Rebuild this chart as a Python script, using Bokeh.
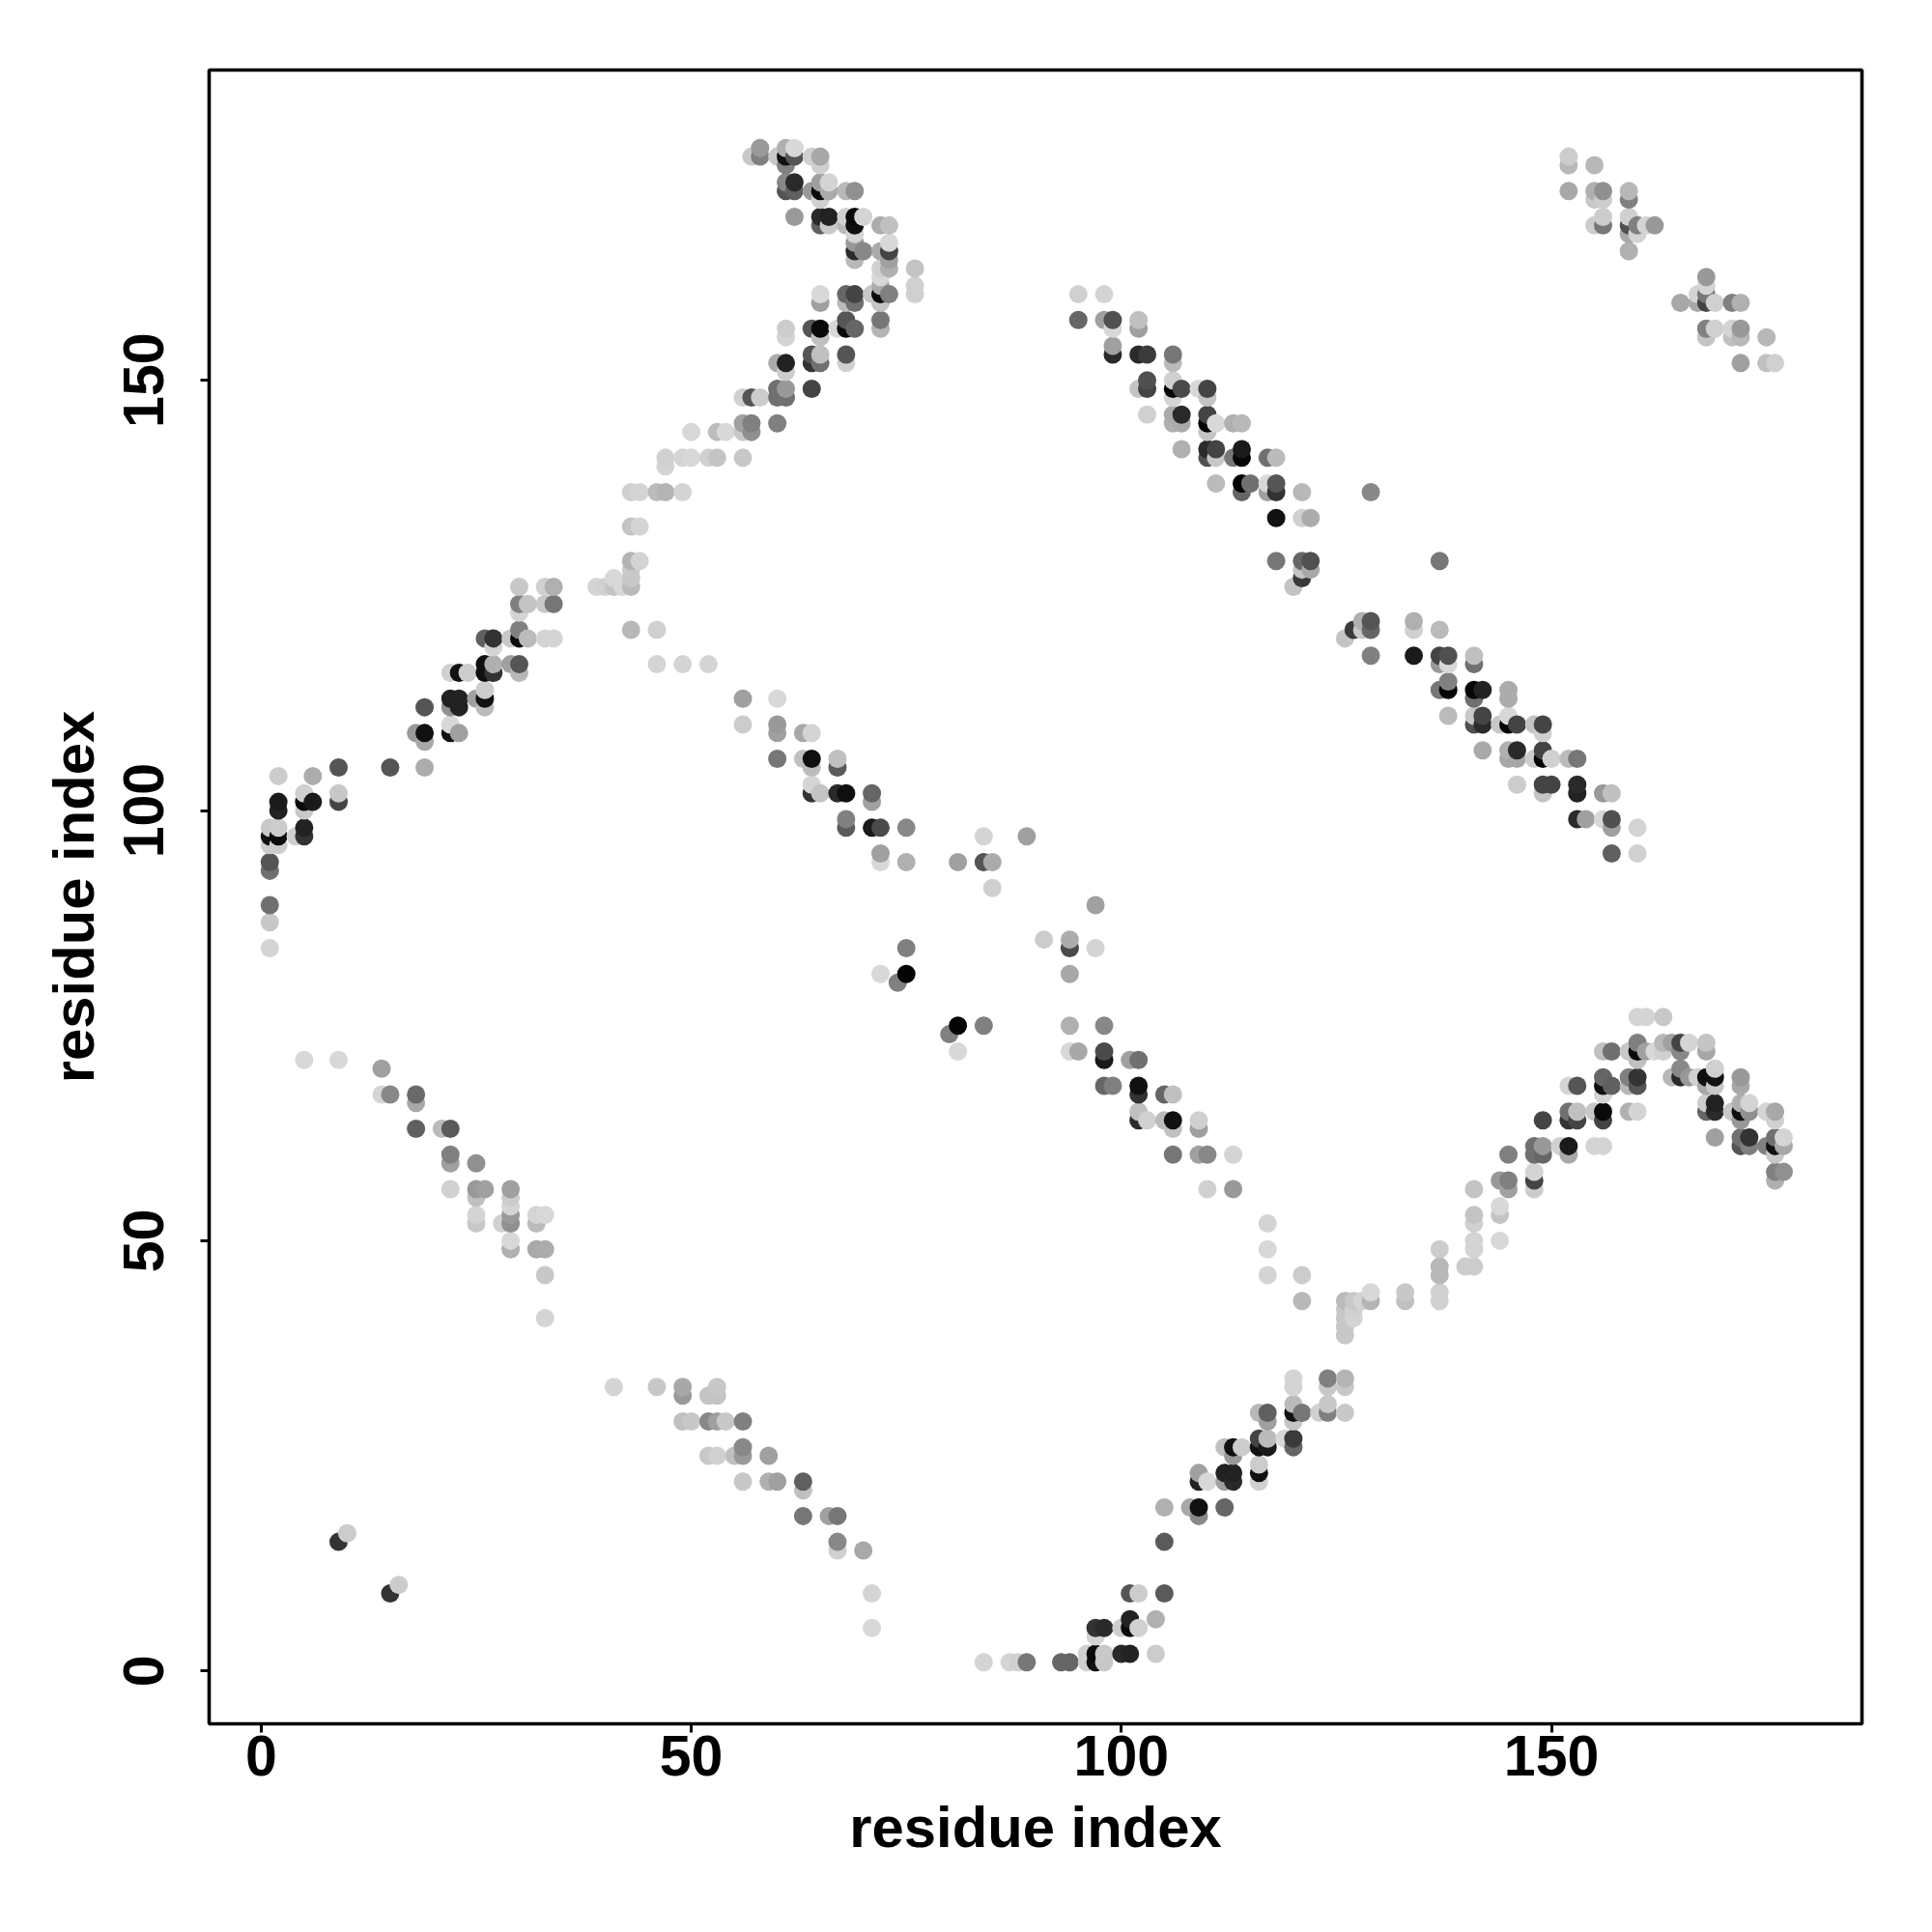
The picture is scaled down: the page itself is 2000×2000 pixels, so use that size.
import numpy as np
from bokeh.plotting import figure
from bokeh.models import ColumnDataSource, FixedTicker, Range1d
from bokeh.embed import file_html
from bokeh.resources import INLINE

# Values: residue pair (x, y) and grey level of each point
x_topleft = [57,58,58,60,61,61,61,62,62,64,65,65,61,61,62,62,64,65,65,65,66,66,68,69,62,65,65,66,66,68,68,69,69,69,70,72,73,69,69,69,70,72,73,73,73,73,72,72,76,76,76,65,65,68,68,69,69,71,72,72,72,73,72,72,61,61,64,65,65,67,68,68,69,64,64,65,65,68,68,60,61,61,64,56,57,58,60,60,61,61]
y_topleft = [176,177,176,176,177,176,175,177,176,176,176,175,173,172,173,172,172,173,172,171,173,172,172,172,169,169,168,169,168,169,168,169,168,167,169,168,168,166,165,164,165,165,166,165,164,163,163,162,163,161,160,160,159,160,159,160,159,160,161,160,159,160,157,156,156,155,156,156,155,156,157,156,156,153,152,153,152,153,152,152,152,151,149,148,148,148,149,148,149,148]
g_topleft = [0xc8,0x9a,0x80,0xc8,0xb0,0x11,0x80,0xd8,0x55,0xd0,0xa8,0xd0,0x88,0x55,0x2a,0x60,0x99,0xa0,0x0a,0xd0,0xd4,0xaa,0xb8,0x90,0x9a,0x2a,0x60,0x22,0xc8,0xd0,0xb8,0x0a,0x0f,0xd4,0xd4,0xac,0xc0,0x99,0x2a,0xb8,0x88,0xaa,0xd8,0x44,0xa0,0xb0,0xd0,0xd8,0xc4,0xd0,0xd0,0xd8,0xa0,0x66,0xbb,0x44,0x70,0xc8,0xaa,0x0a,0xc4,0x80,0x77,0xb4,0xcc,0xd4,0x55,0x0a,0xc0,0xd8,0x55,0x0a,0x66,0x55,0x33,0xc0,0x70,0x55,0xd0,0xac,0x22,0xcc,0x44,0xd0,0x55,0xcc,0x70,0x70,0x99,0x70]

x_ridge = [56,57,60,56,57,50,53,54,47,47,49,50,52,53,56,43,44,46,47,49,43,44,43,44,43,43,43,41,39,40,41,42,43,46,46,49,52]
y_ridge = [145,145,145,144,144,144,144,144,141,140,141,141,141,141,141,137,137,137,137,137,133,133,129,129,128,127,126,127,126,126,126,126,121,121,117,117,117]
g_ridge = [0xa0,0x80,0x80,0xc8,0x90,0xd8,0xbc,0xd8,0xd0,0xd4,0xd4,0xd8,0xd0,0xc4,0xc8,0xd0,0xd4,0xbb,0xb4,0xd4,0xc4,0xd4,0xb4,0xd4,0xc8,0xc8,0xbb,0xd8,0xd4,0xd0,0xc4,0xd8,0xb8,0xd0,0xd4,0xd4,0xd4]

x_left = [30,33,34,30,31,33,34,30,30,30,31,29,33,34,26,27,27,26,26,27,27,29,30,30,22,23,24,22,23,22,23,25,26,26,26,19,18,19,19,22,22,23,9,15,19,2,6,9,9,5,5,6,5,2,2,1,1,1,2,2,2,4,5,5,1,1,1,1,1]
y_left = [126,126,126,124,124,124,124,123,121,120,120,120,120,120,120,120,119,117,116,117,116,117,117,116,116,116,116,113,113,112,112,113,114,113,112,112,109,109,108,110,109,109,105,105,105,104,104,102,101,102,101,101,100,101,100,98,97,96,98,97,96,97,98,97,94,93,89,87,84]
g_left = [0xc8,0xd0,0xb0,0x80,0xc4,0xc8,0x77,0xd4,0x80,0x0a,0xbb,0xc8,0xd4,0xd4,0x60,0x33,0xd4,0x11,0x11,0xb0,0x33,0xa0,0x55,0xb8,0xd0,0x11,0xcc,0x22,0x22,0x90,0x22,0xa0,0xcc,0x11,0xbb,0x55,0x99,0x11,0xa8,0xd8,0x11,0xa0,0x55,0x55,0xac,0xcc,0xac,0xc8,0x44,0xd0,0x0a,0x1a,0xc8,0x1a,0x22,0xc8,0x11,0xcc,0xcc,0x0a,0xcc,0xd0,0x22,0x33,0x55,0x70,0x70,0xc8,0xd4]

x_lowleft = [5,9,14,14,15,18,18,18,21,22,22,22,25,22,25,26,25,29,29,29,29,29,25,25,28,32,33,32,29,29,32,33,33,33,9,10,15,16]
y_lowleft = [71,71,70,67,67,67,66,63,63,63,60,59,59,56,56,56,55,56,55,54,53,52,53,52,52,53,53,52,50,49,49,49,46,41,15,16,9,10]
g_lowleft = [0xd8,0xd8,0xa0,0xd4,0x88,0x6a,0xa8,0x60,0xbb,0x5a,0x80,0xa0,0x90,0xd0,0x99,0xa0,0xc0,0xa0,0xcc,0xd4,0x99,0x90,0xd4,0xc8,0xd0,0xd4,0xd8,0xbb,0xd8,0xb0,0xa8,0xac,0xc8,0xd4,0x33,0xcc,0x33,0xcc]

x_lowmid = [41,46,49,49,49,50,52,53,53,52,53,54,56,52,53,55,56,56,56,59,59,60,63,63,63,66,67,67,67,70,71,71,84,87,88,89,93]
y_lowmid = [33,33,33,32,29,29,32,33,32,29,29,29,29,25,25,25,26,25,22,25,22,22,22,21,18,18,18,15,14,14,9,5,1,1,1,1,1]
g_lowmid = [0xd4,0xc8,0xa8,0x99,0xc0,0xc8,0xc4,0xc8,0xc4,0x88,0xa0,0xc8,0x80,0xc8,0xd0,0xc0,0x88,0x99,0xc8,0xa0,0xb0,0xa0,0x60,0xc0,0x77,0xa0,0x77,0x88,0xd0,0xa8,0xd4,0xd8,0xd4,0xd4,0xd0,0x77,0x66]

x_rise = [94,96,96,97,97,98,98,100,101,104,97,98,97,100,101,101,102,104,101,102,105,105,105,108,109,109,112,109,109,110,112,113,112,113,116,116,116,112,113,113,114,116,116,117,117,119,120,120,116,117,117,120,120,120,121,120,120,123,124,124,126,124,124,126,126,117,121,121,117,117,126,127,129,129,126,126,126,126,127,127,128,133,133,137,137,137,137,137]
y_rise = [1,2,1,2,1,2,1,2,2,2,5,5,4,5,6,5,5,6,9,9,9,15,19,19,19,18,19,23,22,22,23,23,22,22,24,23,22,26,26,25,26,27,26,27,26,27,27,26,30,30,29,31,30,29,30,34,33,30,31,30,30,34,33,34,33,46,46,43,52,49,43,43,44,43,42,41,40,39,42,41,43,44,43,49,47,46,44,43]
g_rise = [0x66,0xd0,0xd0,0x0a,0x11,0xc8,0xc8,0x2a,0x22,0xcc,0x33,0x2a,0xd4,0xcc,0x22,0x0a,0xd0,0xb0,0x55,0xcc,0x5a,0x5a,0xb0,0xa8,0x11,0x88,0x66,0xa0,0x22,0xd8,0x22,0x22,0xa0,0x2a,0xcc,0x11,0xd0,0xc0,0x11,0x99,0xcc,0x44,0x11,0xbb,0x1a,0xd8,0x3a,0x66,0xb8,0x60,0xa0,0xbb,0x11,0xc4,0x77,0xd4,0xd4,0xd0,0xc8,0x80,0xc8,0x80,0xc8,0xb4,0xc8,0xd4,0xcc,0xb8,0xd4,0xd8,0xbb,0xc8,0xd8,0xb4,0xc8,0xc8,0xc8,0xc8,0xd0,0xd4,0xd4,0xc8,0xc0,0xcc,0xb8,0xb8,0xd0,0xd0]

x_arch = [140,141,141,141,141,141,141,144,144,144,144,145,145,148,148,148,145,148,148,149,149,151,152,152,149,152,152,153,153,155,156,156,155,156,159,160,152,153,156,156,156,157,159,159,160,160,156,157,159,160,160,160,161,162,163,163,164,165,165,166,168,168,160,161,163,164,165,165,166,167,168,168,169,169,169,172,172,168,168,169,169,171,172,172,172,173,173,175,176,176,169,172,172,173,173,175,176,176,176,177,177,176,176,177]
y_arch = [47,47,49,50,52,53,56,50,53,54,57,57,56,58,57,56,60,61,60,61,60,61,61,60,64,65,64,65,64,65,65,64,61,61,65,65,68,68,69,68,67,68,69,68,69,68,72,72,72,73,72,71,72,72,73,72,73,73,72,73,73,72,76,76,76,69,70,69,69,69,69,68,70,69,68,69,68,66,65,66,65,65,66,65,64,66,65,65,65,64,62,62,61,62,61,61,62,61,60,62,61,58,57,58]
g_arch = [0xcc,0xcc,0xd4,0xd4,0xd0,0xc4,0xc4,0xd8,0xc4,0xd8,0x99,0x80,0xa0,0xd4,0x44,0xcc,0x80,0x70,0x70,0x99,0x66,0xd0,0x1a,0xa8,0x44,0x70,0x33,0xc0,0x44,0xc8,0x0a,0x44,0xd4,0xd4,0xb0,0xd4,0xd4,0x55,0x66,0x11,0xd4,0x60,0x80,0xb8,0x33,0x55,0xc0,0x70,0xc8,0x80,0x0a,0xc0,0xa0,0xd8,0xb8,0xd0,0xa0,0x44,0x88,0xd4,0xc4,0xa8,0xd4,0xd4,0xc8,0xb8,0x88,0x2a,0x99,0xd0,0x0f,0xa8,0xd0,0x11,0xc8,0x99,0xa8,0xcc,0x66,0x22,0x2a,0xc8,0xb0,0x0f,0x99,0xd4,0x90,0xd4,0xa8,0xd0,0xa0,0x70,0x55,0x33,0x80,0x80,0x70,0x11,0xc8,0xd4,0xa8,0x80,0xb0,0x90]

x_midlow = [94,94,98,94,95,98,98,101,102,98,99,102,102,105,106,102,102,103,105,106,106,109,109,106,109,110,113,110,113]
y_midlow = [81,75,75,72,72,72,71,71,71,68,68,68,67,67,67,65,64,64,64,64,63,64,63,60,60,60,60,56,56]
g_midlow = [0xa8,0xb0,0x88,0xd8,0xa8,0x4a,0x1a,0xa0,0x70,0x66,0x80,0x11,0x33,0x66,0xc0,0xc0,0x2a,0xd0,0xbb,0x11,0xc0,0xd0,0xa0,0x77,0xa0,0x88,0xd4,0xd0,0x99]

x_mid = [56,60,56,60,60,63,64,60,63,64,64,67,67,64,64,65,67,68,71,71,68,68,71,72,75,72,72,75,81,84,85,84,89,85,97,91,94,94,97,75,72,75,74,81,84,80,81]
y_mid = [113,113,110,110,109,109,109,106,106,106,105,106,105,103,102,102,102,102,102,101,99,98,98,98,98,95,94,94,94,94,94,97,97,91,89,85,85,84,84,84,81,81,80,75,75,74,72]
g_mid = [0xa0,0xd8,0xcc,0x99,0xa0,0xa8,0xd4,0x77,0xc0,0x0f,0xbb,0xc0,0x5a,0xd4,0x33,0xc4,0x2a,0x0f,0x66,0xa0,0x80,0x5a,0x1a,0x4a,0x88,0xa0,0xd8,0xb0,0xa0,0x55,0xaa,0xd4,0xa0,0xd0,0xa0,0xcc,0xac,0x4a,0xd4,0x80,0xd8,0x05,0x80,0x05,0x80,0x80,0xd8]

x_upper = [95,98,95,98,99,99,102,102,99,99,102,103,106,106,102,103,103,106,106,106,107,109,110,110,103,106,106,107,107,110,110,110,111,113,114,107,110,110,111,111,113,114,114,117,118,111,114,114,115,117,117,118,118,121,129,118,121,122,118,121,122,121,122,121,120,137]
y_upper = [160,160,157,157,157,156,157,156,154,153,153,153,153,152,149,150,149,150,149,148,149,149,149,148,146,146,145,146,145,146,145,144,145,145,145,142,142,141,142,141,141,142,141,141,141,138,138,137,138,138,137,138,137,137,137,134,134,134,129,129,129,128,128,127,126,129]
g_upper = [0xd0,0xd4,0x66,0xa0,0x50,0xd8,0xc0,0xa0,0xa0,0x2a,0x2a,0x3a,0x77,0xbb,0xc4,0x50,0x44,0xd0,0x05,0xd4,0x4a,0xd8,0x44,0xc4,0xd0,0xaa,0xb0,0x2a,0xaa,0x44,0x05,0xc4,0xd8,0xb0,0xb8,0xb0,0x2a,0x50,0x44,0xc8,0x77,0x1a,0x05,0x70,0xbb,0xbb,0x05,0x66,0x70,0xd8,0xa0,0x55,0x33,0xb8,0x88,0x11,0xd0,0xac,0x77,0x66,0x50,0xc4,0xa8,0x3a,0xc4,0x77]

x_lower = [126,127,128,128,129,129,129,134,134,137,134,137,137,138,138,141,141,137,138,138,141,141,142,145,145,138,141,141,142,142,144,145,145,146,148,149,149,142,145,145,146,146,148,149,149,150,152,153,146,149,149,150,153,153,156,157,153,154,156,157,157,160,157,160]
y_lower = [120,121,122,121,122,121,118,122,121,121,118,118,117,118,117,118,117,114,115,114,114,113,114,114,113,111,111,110,111,110,110,111,110,110,110,110,109,107,107,106,107,106,106,107,106,106,106,106,103,103,102,103,103,102,102,102,99,99,99,99,98,98,95,95]
g_lower = [0xc4,0x3a,0xb0,0xc8,0x55,0x66,0x80,0xb0,0xd0,0xbb,0x1a,0x44,0x99,0x50,0xd8,0xc0,0x70,0x77,0x80,0x05,0x05,0x70,0x22,0xac,0xac,0xbb,0xc8,0x50,0x44,0x2a,0xc8,0xd8,0x05,0x44,0xc4,0x44,0xd0,0xaa,0xb0,0xa8,0x2a,0xa8,0xcc,0x44,0x05,0xd0,0xbb,0x77,0xcc,0x44,0xc4,0x44,0x2a,0x22,0x99,0xc0,0x2a,0xa0,0xd8,0x50,0xa0,0xd4,0x60,0xd0]

x_corner = [152,152,155,152,155,155,156,156,159,159,155,156,156,159,159,159,160,160,161,162,159,168,168,167,168,165,167,168,169,171,172,168,168,169,171,171,172,172,175,172,175,176]
y_corner = [176,175,175,172,172,171,172,171,172,171,168,169,168,169,168,167,168,167,168,168,165,162,161,160,160,159,159,159,159,159,159,156,155,156,156,155,156,155,155,152,152,152]
g_corner = [0xcc,0xb8,0xb8,0xa8,0xb0,0xc8,0x90,0xcc,0xb8,0x80,0xcc,0xcc,0x77,0xd0,0x50,0xa8,0x80,0xd4,0xd4,0x99,0xb0,0x99,0xd4,0xd4,0x77,0xa8,0xa8,0x44,0xd0,0x80,0xb0,0x80,0xc4,0xd0,0xd4,0xc0,0x99,0xb8,0xb8,0xa0,0xc0,0xd0]

tick_values = [0, 50, 100, 150]
axis_title = "residue index"

xs = np.array(x_topleft + x_ridge + x_left + x_lowleft + x_lowmid + x_rise + x_arch + x_midlow + x_mid + x_upper + x_lower + x_corner)
ys = np.array(y_topleft + y_ridge + y_left + y_lowleft + y_lowmid + y_rise + y_arch + y_midlow + y_mid + y_upper + y_lower + y_corner)
gs = np.array(g_topleft + g_ridge + g_left + g_lowleft + g_lowmid + g_rise + g_arch + g_midlow + g_mid + g_upper + g_lower + g_corner)

order = np.lexsort((ys, xs))
xs, ys, gs = xs[order], ys[order], gs[order]
colors = ["#%02x%02x%02x" % (g, g, g) for g in gs]
src = ColumnDataSource(dict(x=xs.tolist(), y=ys.tolist(), c=colors))

p = figure(width=1984, height=1984, output_backend="svg", toolbar_location=None,
           x_range=Range1d(-6.05, 186.1), y_range=Range1d(-6.15, 186.06),
           min_border_left=216, min_border_right=57, min_border_top=72, min_border_bottom=200)
p.grid.visible = False
p.outline_line_color = "black"
p.outline_line_width = 3.6
p.outline_line_alpha = 1
p.background_fill_color = "white"
p.scatter("x", "y", source=src, size=19, fill_color="c", line_color=None, marker="circle")

for ax in (p.xaxis[0], p.yaxis[0]):
    ax.ticker = FixedTicker(ticks=tick_values)
    ax.axis_label = axis_title
    ax.axis_line_color = None
    ax.major_tick_out = 9
    ax.major_tick_in = 0
    ax.major_tick_line_width = 3
    ax.major_tick_line_color = "black"
    ax.minor_tick_line_color = None
    ax.major_label_text_font = "Liberation Sans"
    ax.major_label_text_font_style = "bold"
    ax.major_label_text_font_size = "59px"
    ax.major_label_text_color = "black"
    ax.axis_label_text_font = "Liberation Sans"
    ax.axis_label_text_font_style = "bold"
    ax.axis_label_text_font_size = "59.8px"
    ax.axis_label_text_color = "black"
p.yaxis[0].major_label_orientation = "vertical"
p.xaxis[0].major_label_standoff = 3
p.yaxis[0].major_label_standoff = 38
p.xaxis[0].axis_label_standoff = 17
p.yaxis[0].axis_label_standoff = 16

open("out.html", "w").write(file_html(p, INLINE))
